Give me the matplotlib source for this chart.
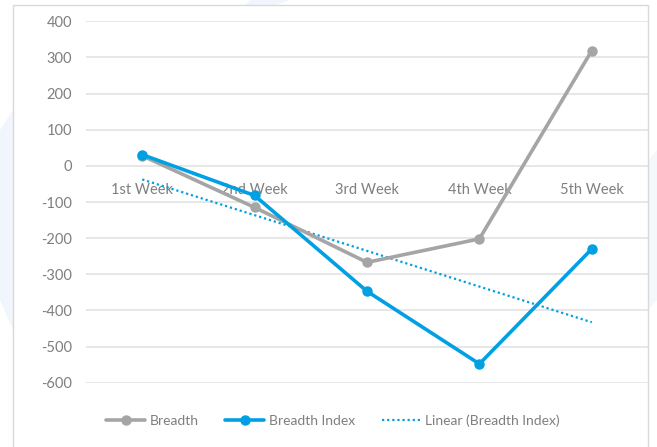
import matplotlib.pyplot as plt
import numpy as np
from matplotlib.patches import Rectangle, Polygon

weeks = ['1st Week', '2nd Week', '3rd Week', '4th Week', '5th Week']
breadth = [28, -115, -267, -202, 319]
breadth_index = [31, -82, -347, -548, -230]
y_ticks = [400, 300, 200, 100, 0, -100, -200, -300, -400, -500, -600]

GRAY = '#A5A5A5'
BLUE = '#00A0E3'
TEXT = '#7F7F7F'

plt.rcParams['font.family'] = ['Lato', 'DejaVu Sans']

W, H = 657, 447
fig = plt.figure(figsize=(W / 100, H / 100), dpi=100, facecolor='white')

# faint decorative background shapes outside the chart frame
bg = fig.add_axes([0, 0, 1, 1], zorder=-10)
bg.set_xlim(0, W)
bg.set_ylim(H, 0)
bg.axis('off')
bg.add_patch(Polygon([[0, 300], [0, 130], [13, 110], [13, 330]], closed=True,
                     facecolor='#F1F6FD', edgecolor='none'))
bg.add_patch(Polygon([[250, 0], [290, 0], [275, 5], [245, 5]], closed=True,
                     facecolor='#F1F6FD', edgecolor='none'))
bg.add_patch(Polygon([[648, 160], [657, 150], [657, 300], [648, 310]], closed=True,
                     facecolor='#F4F8FD', edgecolor='none'))
# chart frame
bg.add_patch(Rectangle((13, 5), 635, 460, facecolor='white', edgecolor='#D9D9D9', lw=1))

ax = fig.add_axes([86 / W, (H - 382.7) / H, 562 / W, 361.4 / H])
ax.set_facecolor('none')
x = np.arange(len(weeks))

ax.plot(x, breadth, color=GRAY, lw=2.6, marker='o', ms=6.5, label='Breadth',
        solid_capstyle='round', clip_on=False, zorder=3)
ax.plot(x, breadth_index, color=BLUE, lw=2.6, marker='o', ms=6.5, label='Breadth Index',
        solid_capstyle='round', clip_on=False, zorder=4)

# linear trend of Breadth Index
coef = np.polyfit(x, breadth_index, 1)
ax.plot(x, np.polyval(coef, x), color=BLUE, lw=1.6, linestyle=(0, (1, 1.3)),
        label='Linear (Breadth Index)', zorder=2)

ax.set_xlim(-0.5, len(weeks) - 0.5)
ax.set_ylim(-600, 400)
ax.set_yticks(y_ticks)
ax.set_yticklabels([str(v) for v in y_ticks])
ax.tick_params(axis='y', length=0, pad=10, labelsize=10.5, labelcolor=TEXT)
ax.set_xticks([])
ax.grid(axis='y', color='#E3E3E3', lw=1.2)
ax.set_axisbelow(True)
for s in ax.spines.values():
    s.set_visible(False)

# category labels sit just below the zero line
for i, w in enumerate(weeks):
    ax.annotate(w, xy=(i, 0), xytext=(0, -24), textcoords='offset pixels',
                ha='center', va='center', fontsize=10.5, color=TEXT, zorder=1)

leg = fig.legend(loc='center', bbox_to_anchor=(333 / W, (H - 421) / H), ncol=3,
                 frameon=False, fontsize=10, handlelength=2.8, handletextpad=0.35,
                 columnspacing=1.9, labelcolor=TEXT)

fig.savefig('out.png', dpi=100, facecolor='white')
